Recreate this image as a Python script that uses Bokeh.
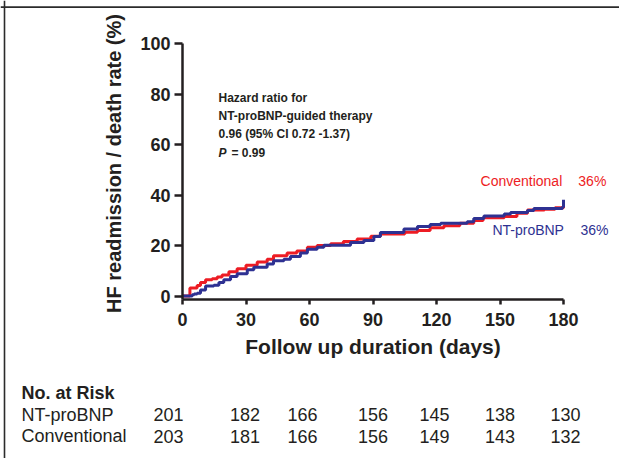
import math
from bokeh.plotting import figure
from bokeh.models import Range1d, FixedTicker, Label, LinearAxis, Span, ColumnDataSource
from bokeh.core.properties import value
from bokeh.embed import file_html
from bokeh.resources import INLINE

# ---------------- data ----------------
conv_days = [0, 3.5, 6.9, 8.5, 10.9, 14, 16.4, 18.7, 21.9, 25.8, 30, 35.3, 40, 43,
             49.4, 54, 59, 63.6, 70, 76, 82.5, 89, 93.5, 105, 111, 117, 123.5, 131,
             137.6, 142, 152, 158, 163, 171, 176, 180]
conv_rate = [0, 3.2, 4.2, 5.3, 6.4, 6.8, 7.5, 8.3, 9.6, 10.8, 12.2, 13.5, 14.6, 15.9,
             17.0, 17.8, 19.3, 20.0, 20.7, 21.6, 22.6, 23.7, 24.6, 25.2, 25.9, 27.0, 27.8, 28.8,
             29.9, 31.0, 31.5, 32.8, 34.1, 34.4, 35.0, 35.2]

nt_days = [0, 4.6, 5.5, 6.9, 8.5, 10.9, 14.8, 17.2, 19.5, 22.7, 25.8, 30.6, 33.7, 40,
           43, 47.9, 51, 55.7, 59, 63.6, 66.8, 79.4, 85.7, 90.4, 93.5, 104.6, 111, 117,
           122, 134.5, 137.6, 142.4, 152, 155, 163, 166, 179.5, 180]
nt_rate = [0, 0.5, 0.8, 1.1, 2.4, 4.0, 4.3, 5.3, 6.4, 7.7, 8.8, 10.4, 11.4, 12.7,
           14.0, 14.6, 15.6, 17.0, 18.5, 19.3, 20.1, 21.2, 22.0, 23.6, 25.1, 26.5, 27.5, 28.3,
           28.8, 29.4, 30.7, 31.7, 32.5, 33.1, 33.9, 34.7, 35.2, 38.1]

x_ticks = [0, 30, 60, 90, 120, 150, 180]
y_ticks = [0, 20, 40, 60, 80, 100]

risk_times = [0, 30, 60, 90, 120, 150, 180]
risk_nt = [201, 182, 166, 156, 145, 138, 130]
risk_conv = [203, 181, 166, 156, 149, 143, 132]
risk_rows = ["NT-proBNP", "Conventional"]

end_conv = "36%"
end_nt = "36%"

# ---------------- layout / styling ----------------
FONT = "Liberation Sans"
INK = "#231f20"
RED = "#ed1c24"
BLUE = "#2e3192"

W, H = 619, 458
KX = 381 / 180.0        # px per day
KY = 2.525              # px per percent
OX, OY = 182, 295.5     # canvas position of (0 days, 0 %)
x_range = Range1d(-OX / KX, (W - OX) / KX)
y_range = Range1d(-(H - OY) / KY, OY / KY)
Y_AX = -1.4             # x axis sits slightly below 0 %

p = figure(width=W, height=H, x_range=x_range, y_range=y_range,
           x_axis_location=None, y_axis_location=None,
           output_backend="svg", toolbar_location=None,
           min_border=0, min_border_left=0, min_border_right=0,
           min_border_top=0, min_border_bottom=0)
p.outline_line_color = None
p.xgrid.visible = False
p.ygrid.visible = False
p.background_fill_color = "white"
p.border_fill_color = "white"

xax = LinearAxis(fixed_location=Y_AX, bounds=(0, 180), ticker=FixedTicker(ticks=x_ticks))
yax = LinearAxis(fixed_location=0, bounds=(Y_AX, 100), ticker=FixedTicker(ticks=y_ticks))
for ax in (xax, yax):
    ax.axis_line_width = 2.5
    ax.axis_line_color = INK
    ax.major_tick_line_width = 2.5
    ax.major_tick_line_color = INK
    ax.major_tick_in = 0
    ax.minor_tick_line_color = None
    ax.major_label_text_font = FONT
    ax.major_label_text_font_style = "bold"
    ax.major_label_text_font_size = "18px"
    ax.major_label_text_color = INK
    ax.axis_label_text_font = FONT
    ax.axis_label_text_font_style = "bold"
    ax.axis_label_text_color = INK
xax.major_tick_out = 5
yax.major_tick_out = 8
xax.major_label_standoff = 8
yax.major_label_standoff = 4
xax.axis_label = "Follow up duration (days)"
xax.axis_label_text_font_size = "21px"
xax.axis_label_standoff = 6
p.add_layout(xax, "below")
p.add_layout(yax, "left")

# y axis title
p.add_layout(Label(x=-69 / KX, y=132.5 / KY, text="HF readmission / death rate (%)",
                   angle=math.pi / 2, text_font=FONT, text_font_style="bold",
                   text_font_size="20px", text_color=INK, text_align="center",
                   text_baseline="middle"))

# frame lines of the original figure (top and left)
p.add_layout(Span(location=(OY - 6.7) / KY, dimension="width",
                  line_color="#2b2b2b", line_width=1.8))
p.add_layout(Span(location=(4 - OX) / KX, dimension="height",
                  line_color="#2b2b2b", line_width=1.6))

# curves
p.step(conv_days, conv_rate, mode="after", line_color=RED, line_width=3)
p.step(nt_days, nt_rate, mode="after", line_color=BLUE, line_width=3)

# hazard ratio text
hr_lines = ["Hazard ratio for", "NT-proBNP-guided therapy", "0.96 (95% CI 0.72 -1.37)"]
hr_y = [78.6, 71.1, 64.0]
for t, yy in zip(hr_lines, hr_y):
    p.add_layout(Label(x=17, y=yy, text=t, text_font=FONT, text_font_style="bold",
                       text_font_size="12px", text_color=INK, text_baseline="middle"))
p.add_layout(Label(x=17, y=56.8, text="P", text_font=FONT, text_font_style="bold italic",
                   text_font_size="12px", text_color=INK, text_baseline="middle"))
p.add_layout(Label(x=17, y=56.8, x_offset=13, text="= 0.99", text_font=FONT,
                   text_font_style="bold", text_font_size="12px", text_color=INK,
                   text_baseline="middle"))

# end labels
for txt, xx, yy, col in (("Conventional", 140.8, 45.7, RED), (end_conv, 187, 45.7, RED),
                         ("NT-proBNP", 146.4, 26.3, BLUE), (end_nt, 188, 26.3, BLUE)):
    p.add_layout(Label(x=xx, y=yy, text=txt, text_font=FONT, text_font_size="14px",
                       text_color=col, text_baseline="middle"))

# number-at-risk table
ROW_X = -161 / KX
ROW_Y = [-38.6, -47.0, -55.6]
p.text(x=[ROW_X], y=[ROW_Y[0]], text=["No. at Risk"], text_font=value(FONT),
       text_font_style="bold", text_font_size="18px", text_color=INK,
       text_baseline="middle")
p.text(x=[ROW_X, ROW_X], y=ROW_Y[1:], text=risk_rows, text_font=value(FONT),
       text_font_size="18px", text_color=INK, text_baseline="middle")
x_shift = [-14, -1, -7, 0, -2, 0, 2]
src = ColumnDataSource(dict(
    x=risk_times + risk_times,
    y=[ROW_Y[1]] * len(risk_times) + [ROW_Y[2]] * len(risk_times),
    t=[str(v) for v in risk_nt] + [str(v) for v in risk_conv],
    dx=x_shift + x_shift))
p.text(x="x", y="y", text="t", x_offset="dx", source=src, text_font=value(FONT),
       text_font_size="18px", text_color=INK, text_align="center", text_baseline="middle")

open("out.html", "w").write(file_html(p, INLINE))
